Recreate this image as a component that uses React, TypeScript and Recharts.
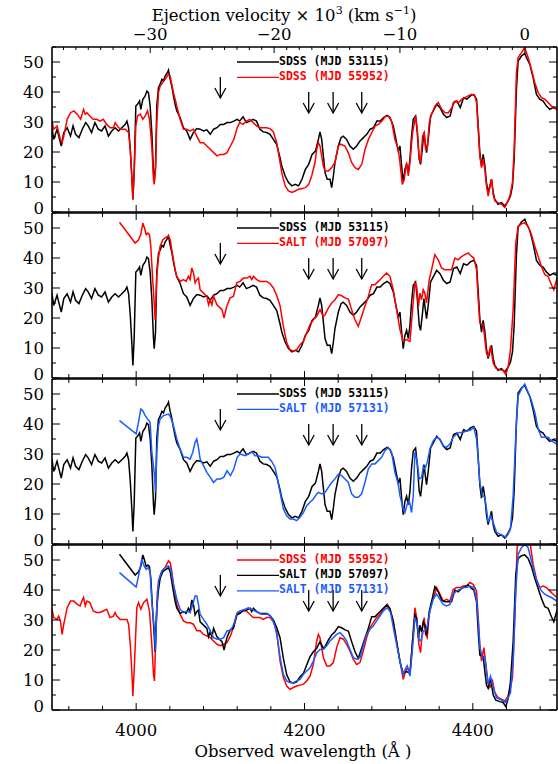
import { LineChart, Line, XAxis, YAxis, ReferenceDot, Legend } from 'recharts';

type Pt = [number, number];

// wavelength (Å), flux
const sdss53115: Pt[] = [
  [3900, 28.1], [3902, 24.2], [3906, 27.6], [3908, 25.3], [3911, 22.0], [3914, 26.5], [3918, 28.1], [3922, 25.3],
  [3925, 28.7], [3928, 25.9], [3932, 24.8], [3936, 27.6], [3940, 29.8], [3943, 28.7], [3947, 26.5], [3951, 29.8],
  [3955, 27.6], [3959, 27.0], [3963, 28.7], [3967, 25.3], [3971, 27.0], [3975, 28.1], [3979, 27.0], [3983, 28.1],
  [3987, 29.2], [3989, 30.3], [3991, 28.1], [3993, 20.9], [3995, 10.9], [3996.1, 4.2], [3997.6, 13.1], [3999.6, 35.3],
  [4001.6, 35.9], [4004, 37.0], [4005.5, 34.2], [4008, 37.6], [4010.7, 38.7], [4012.7, 40.3], [4014.6, 39.8],
  [4016.6, 35.3], [4018.6, 26.5], [4020.6, 13.1], [4021.4, 9.8], [4023, 15.3], [4024.5, 35.3], [4026.5, 41.5],
  [4028.5, 42.6], [4030.5, 44.2], [4032.4, 43.7], [4034.4, 45.3], [4037.2, 46.5], [4038.4, 47.3], [4040.4, 44.2],
  [4042.3, 42.0], [4044.3, 38.7], [4046.3, 35.9], [4048.3, 33.7], [4052.2, 31.5], [4056.2, 28.1], [4060.1, 27.0],
  [4064.1, 24.2], [4068.1, 26.5], [4072, 27.8], [4076, 27.6], [4080, 27.0], [4084, 27.4], [4088, 25.9], [4092, 27.6],
  [4096, 28.1], [4100, 29.2], [4104, 29.2], [4108, 29.8], [4112, 29.8], [4116, 30.3], [4120, 30.9], [4123, 30.3],
  [4127, 31.7], [4131, 29.8], [4135, 30.3], [4139, 30.9], [4143, 30.3], [4147, 27.6], [4151, 26.7], [4155, 26.5],
  [4159, 25.9], [4163, 24.2], [4167, 22.5], [4171, 18.0], [4173, 15.3], [4177, 12.0], [4181, 9.8], [4185, 8.7],
  [4189, 9.2], [4193, 8.7], [4197, 10.9], [4201, 14.2], [4205, 15.9], [4209, 19.2], [4213, 20.3], [4216.5, 24.2],
  [4218.4, 26.7], [4220.4, 24.2], [4222.4, 18.7], [4224.4, 13.1], [4227, 10.9], [4230.3, 10.9], [4232.3, 8.1],
  [4234.3, 12.0], [4236.2, 16.5], [4240.2, 22.0], [4243.4, 24.8], [4246, 25.3], [4250, 24.2], [4254, 22.0],
  [4258, 20.9], [4262, 22.0], [4266, 23.7], [4270, 24.8], [4274, 25.9], [4278, 27.6], [4282, 28.1], [4286, 30.3],
  [4290, 30.3], [4294, 31.5], [4298, 32.2], [4301.5, 31.5], [4305.5, 28.7], [4309.4, 23.1], [4311.4, 20.3],
  [4313.4, 22.0], [4315.4, 15.3], [4317.3, 9.8], [4319.3, 14.2], [4321.3, 15.9], [4323.3, 13.1], [4325.3, 17.6],
  [4327.2, 25.3], [4329.2, 30.9], [4332, 32.0], [4334, 26.5], [4336.3, 17.6], [4337.9, 15.9], [4339.9, 20.9],
  [4341.9, 26.5], [4343.4, 23.1], [4345, 19.8], [4347, 24.2], [4349.8, 32.0], [4353, 33.7], [4357, 35.9],
  [4361, 34.8], [4365, 32.6], [4369, 31.5], [4373, 32.0], [4377, 36.5], [4381, 37.0], [4385, 34.8], [4389, 38.1],
  [4393, 37.6], [4397, 38.7], [4401, 39.2], [4404.4, 37.6], [4406.4, 28.7], [4408.3, 19.8], [4410.3, 15.3],
  [4412.3, 19.2], [4414.3, 15.5], [4416.2, 9.8], [4418.2, 6.5], [4420.2, 8.7], [4422.2, 10.9], [4424.2, 6.5],
  [4426.1, 4.2], [4430, 2.6], [4434, 3.1], [4438, 2.0], [4442, 3.7], [4444.7, 5.3], [4447.1, 8.7], [4449.1, 17.6],
  [4451.8, 40.9], [4453.8, 50.3], [4457.8, 52.0], [4461.7, 52.9], [4463.7, 51.5], [4467.7, 49.2], [4471.6, 44.8],
  [4475.6, 39.2], [4479.5, 37.6], [4483.5, 37.0], [4487.5, 35.3], [4491.4, 34.2], [4495.4, 34.8], [4500, 34.2],
];

const sdss55952: Pt[] = [
  [3900, 30.3], [3902, 27.6], [3906, 28.7], [3910, 24.2], [3912, 23.1], [3914, 25.3], [3918, 30.9], [3922, 33.1],
  [3926, 33.7], [3930, 32.6], [3934, 30.9], [3937.5, 34.2], [3939.5, 32.6], [3941.5, 33.1], [3945, 32.0],
  [3949, 30.9], [3953, 30.9], [3957, 30.3], [3961, 30.9], [3965, 29.2], [3969, 28.1], [3973, 28.1], [3975, 29.8],
  [3979, 28.1], [3983, 27.6], [3987, 27.6], [3991, 26.5], [3993, 20.9], [3995, 10.9], [3996.1, 4.2], [3997.6, 13.1],
  [3999.6, 28.7], [4001.6, 32.0], [4004.8, 32.6], [4008, 30.9], [4010.7, 32.0], [4013.5, 33.7], [4015.8, 30.9],
  [4018.6, 22.0], [4020.6, 10.9], [4021.4, 9.2], [4023, 14.2], [4024.5, 29.8], [4026.5, 39.8], [4028.5, 42.0],
  [4031.3, 43.1], [4034.4, 44.2], [4038.4, 45.9], [4040.4, 45.3], [4042.3, 42.6], [4044.3, 39.8], [4046.3, 37.6],
  [4048.3, 35.3], [4052.2, 30.9], [4056.2, 27.6], [4060, 27.6], [4064, 27.0], [4068, 27.6], [4072, 25.3],
  [4076, 23.1], [4080, 23.1], [4084, 22.0], [4088, 20.9], [4092, 19.8], [4096, 18.7], [4100, 19.2], [4104, 19.2],
  [4108, 19.8], [4112, 22.0], [4116, 24.2], [4120, 28.1], [4123, 29.8], [4127, 29.2], [4131, 30.3], [4135, 30.9],
  [4139, 29.8], [4143, 28.7], [4147, 28.1], [4151, 28.1], [4155, 28.1], [4159, 27.8], [4163, 26.7], [4167, 23.1],
  [4173, 13.1], [4177, 8.7], [4181, 7.0], [4185, 6.5], [4189, 7.0], [4193, 7.6], [4197, 7.8], [4201, 8.1],
  [4205, 9.2], [4208.5, 12.0], [4212.5, 16.5], [4214.5, 20.9], [4216.5, 23.1], [4218.4, 22.0], [4222.4, 15.3],
  [4224.4, 13.7], [4228.3, 13.7], [4232.3, 14.8], [4236.2, 16.5], [4240.2, 22.0], [4243, 22.6], [4248, 22.0],
  [4252, 19.8], [4256, 16.5], [4260, 14.8], [4264, 14.2], [4268, 15.9], [4272, 20.9], [4276, 24.2], [4280, 26.5],
  [4284, 28.7], [4288, 29.2], [4292, 30.3], [4296, 31.8], [4299.5, 32.0], [4303.5, 30.3], [4307.4, 24.2],
  [4311.4, 20.9], [4313.4, 16.5], [4316.2, 9.2], [4318.5, 10.9], [4321.3, 16.5], [4323.3, 12.0], [4325.3, 16.5],
  [4328.4, 26.5], [4332, 32.0], [4334, 27.6], [4336.3, 17.6], [4337.9, 16.5], [4340.3, 25.3], [4342.3, 26.5],
  [4343.8, 20.9], [4345.8, 20.9], [4348.2, 29.8], [4351, 32.6], [4355, 35.3], [4359, 36.5], [4363, 34.2],
  [4367, 33.1], [4371, 33.1], [4375, 34.8], [4379, 37.0], [4383, 36.5], [4387, 37.6], [4390.5, 38.1],
  [4394.5, 38.7], [4398.4, 39.2], [4402.4, 38.7], [4404.4, 36.5], [4406.4, 27.6], [4408.3, 18.7], [4410.3, 14.8],
  [4412.3, 17.6], [4414.3, 14.0], [4416.2, 8.7], [4418.2, 5.3], [4420.2, 8.1], [4422.2, 10.9], [4424.2, 5.9],
  [4426.1, 3.7], [4430, 3.1], [4434, 2.6], [4438, 1.5], [4440.8, 3.1], [4444, 5.3], [4447.1, 9.8], [4449.1, 20.9],
  [4451.8, 46.5], [4453.8, 51.5], [4457.8, 53.1], [4461.7, 54.8], [4465.7, 51.5], [4469.6, 47.6], [4473.6, 43.1],
  [4477.6, 39.8], [4481.5, 38.1], [4485.5, 37.6], [4489.4, 36.5], [4493.4, 35.3], [4500, 34.2],
];

const salt57097: Pt[] = [
  [3980.2, 51.9], [3998.8, 45.0], [4002.8, 46.1], [4005.5, 47.8], [4007.9, 51.7], [4009.9, 50.0], [4011.9, 47.8],
  [4013.9, 48.3], [4015.8, 47.8], [4017.4, 43.9], [4019.4, 33.9], [4021.4, 25.0], [4022.5, 19.4], [4024.5, 33.9],
  [4026.5, 40.0], [4028.5, 43.9], [4031.7, 46.1], [4034.4, 46.7], [4038.4, 47.4], [4040.4, 46.1], [4042.3, 42.8],
  [4044.3, 39.4], [4046.3, 36.1], [4048.3, 33.9], [4052.2, 32.2], [4056.2, 32.8], [4059.3, 32.2], [4062.1, 33.9],
  [4064.1, 32.8], [4066.1, 36.7], [4068.1, 35.0], [4070, 31.7], [4072, 32.8], [4074, 33.3], [4076, 29.4],
  [4080, 28.3], [4084, 27.2], [4086, 24.4], [4088, 26.1], [4090, 24.4], [4092, 27.2], [4096, 24.4], [4100, 23.3],
  [4102, 22.8], [4104.4, 20.0], [4107.6, 23.9], [4111.6, 26.7], [4115.5, 27.2], [4119.5, 31.7], [4123.4, 32.2],
  [4127.4, 33.3], [4131.3, 33.3], [4135.3, 33.9], [4137.3, 32.8], [4139.3, 33.9], [4143.2, 32.8], [4147.2, 32.2],
  [4151.1, 32.2], [4155.1, 32.2], [4159, 31.5], [4163, 30.0], [4167, 27.5], [4171, 24.0], [4174.9, 17.2],
  [4178.9, 11.7], [4182.8, 9.4], [4186.8, 8.9], [4190.7, 9.4], [4194.7, 11.1], [4198.7, 12.2], [4202.6, 15.0],
  [4206.6, 17.8], [4210.5, 19.4], [4214.5, 20.6], [4218.4, 22.8], [4222.4, 20.6], [4224.4, 21.1], [4228.3, 23.3],
  [4232.3, 25.0], [4236.2, 26.1], [4240.2, 27.8], [4244.2, 27.4], [4248.1, 26.7], [4252.1, 26.3], [4256, 22.8],
  [4260, 19.4], [4263.9, 17.2], [4267.9, 20.6], [4271.8, 23.9], [4275.8, 27.2], [4279.8, 31.1], [4283.7, 31.1],
  [4287.7, 32.2], [4293.6, 33.9], [4297.6, 35.0], [4301.5, 33.9], [4305.5, 29.4], [4309.4, 22.8], [4313.4, 16.1],
  [4317.3, 12.2], [4321.3, 12.8], [4325.3, 12.2], [4328.4, 22.8], [4331.2, 31.7], [4333.2, 30.6], [4335.5, 23.9],
  [4337.1, 28.3], [4339.1, 26.1], [4341.1, 29.4], [4343, 28.3], [4345, 25.0], [4348.2, 32.8], [4351, 36.1],
  [4354.9, 41.1], [4358.9, 39.4], [4362.8, 36.7], [4366.8, 36.1], [4370.7, 36.1], [4374.7, 36.1], [4378.7, 40.0],
  [4382.6, 39.4], [4386.6, 40.5], [4390.5, 41.1], [4394.5, 41.7], [4398.4, 40.5], [4401.2, 40.0], [4404.4, 36.1],
  [4406.4, 26.1], [4408.3, 18.3], [4412.3, 17.8], [4414.3, 12.8], [4416.2, 8.3], [4418.2, 7.2], [4421, 10.6],
  [4424.2, 5.0], [4427.3, 3.3], [4432.1, 2.8], [4436, 2.5], [4439.2, 1.1], [4442, 3.9], [4444.7, 9.4],
  [4447.9, 22.8], [4451, 45.0], [4453.8, 50.5], [4457.8, 51.4], [4461.7, 51.7], [4465.7, 50.5], [4469.6, 47.8],
  [4473.6, 43.9], [4477.6, 40.5], [4481.5, 37.2], [4485.5, 34.4], [4489.4, 33.9], [4493.4, 31.1], [4496.2, 29.4],
  [4500, 33.3],
];

const salt57131: Pt[] = [
  [3980.2, 41.1], [4000, 36.7], [4002.8, 40.6], [4005.5, 45.0], [4007.9, 44.4], [4010.7, 42.8], [4013.5, 41.7],
  [4016.6, 40.6], [4018.6, 30.6], [4021.4, 23.9], [4023, 17.2], [4024.5, 30.6], [4026.5, 39.4], [4028.5, 41.7],
  [4032.4, 42.8], [4038.4, 43.3], [4041.1, 42.2], [4044.3, 39.4], [4048.3, 35.0], [4052.2, 31.7], [4056.2, 28.9],
  [4060.1, 28.9], [4064.1, 28.3], [4067.3, 30.6], [4070, 33.9], [4072, 35.0], [4074, 32.2], [4076, 28.3],
  [4080, 26.1], [4084, 23.9], [4088, 22.2], [4092, 20.5], [4096, 21.7], [4100, 21.7], [4104, 22.2], [4108, 24.4],
  [4112, 22.8], [4116, 25.0], [4120, 28.9], [4123.4, 30.0], [4129.4, 29.4], [4133.3, 30.0], [4137.3, 30.8],
  [4141.2, 29.4], [4145.2, 29.4], [4149.1, 28.9], [4153.1, 28.9], [4157.1, 28.9], [4161, 27.5], [4165, 25.5],
  [4168, 21.5], [4171, 17.2], [4174.9, 11.7], [4178.9, 9.4], [4182.8, 8.3], [4186.8, 8.3], [4190.7, 7.8],
  [4194.7, 8.9], [4198.7, 10.5], [4202.6, 12.8], [4206.6, 13.9], [4210.5, 15.0], [4214.5, 16.7], [4216.5, 17.2],
  [4220.4, 16.7], [4224.4, 17.2], [4228.3, 18.9], [4232.3, 20.5], [4236.2, 21.7], [4240.2, 23.3], [4244.2, 22.8],
  [4248.1, 21.7], [4252.1, 20.5], [4256, 16.7], [4260, 15.6], [4263.9, 15.6], [4267.9, 16.7], [4271.8, 20.5],
  [4275.8, 25.0], [4279.8, 26.7], [4283.7, 26.7], [4287.7, 27.8], [4291.6, 28.9], [4295.6, 31.1], [4299.5, 32.2],
  [4303.5, 30.6], [4307.4, 23.9], [4311.4, 20.0], [4313.4, 16.1], [4317.3, 11.7], [4319.3, 10.5], [4322.1, 13.3],
  [4324.5, 14.4], [4327.2, 10.5], [4329.2, 16.1], [4331.2, 30.6], [4334, 27.2], [4336.3, 21.7], [4339.1, 22.2],
  [4341.1, 25.6], [4343, 25.0], [4345.8, 27.2], [4349, 31.7], [4352.9, 34.4], [4356.9, 35.6], [4360.9, 35.0],
  [4364.8, 32.8], [4368.8, 32.2], [4372.7, 33.3], [4376.7, 35.6], [4380.6, 36.7], [4384.6, 37.2], [4388.5, 37.2],
  [4392.5, 37.8], [4396.5, 37.8], [4401.2, 38.9], [4404.4, 35.0], [4406.4, 28.3], [4408.3, 20.5], [4411.5, 16.1],
  [4414.3, 15.6], [4416.2, 11.7], [4418.2, 7.2], [4421, 9.4], [4424.2, 7.2], [4428.1, 3.9], [4432.1, 3.3],
  [4436, 2.8], [4439.2, 2.2], [4442, 3.3], [4444.7, 5.0], [4447.9, 16.1], [4451, 36.1], [4453.8, 49.4],
  [4457.8, 51.7], [4461.7, 53.3], [4465.7, 50.6], [4469.6, 47.8], [4473.6, 43.9], [4477.6, 38.3], [4481.5, 35.6],
  [4485.5, 35.6], [4489.4, 35.6], [4493.4, 34.4], [4500, 33.3],
];

// bottom panel: spectra matched to SALT (MJD 57097)
const sdss55952Matched: Pt[] = [
  [3900, 33.6], [3902, 30.8], [3906, 30.2], [3908, 31.3], [3910, 29.7], [3912, 25.2], [3914, 28.6], [3918, 34.1],
  [3922, 36.3], [3926, 36.3], [3930, 35.2], [3933.5, 34.7], [3935.5, 36.3], [3937.5, 37.5], [3939.5, 34.7],
  [3941.5, 36.3], [3945, 35.8], [3949, 33.0], [3953, 32.5], [3957, 32.5], [3961, 33.0], [3965, 33.6], [3969, 30.8],
  [3973, 31.3], [3975, 32.5], [3977, 31.3], [3981, 30.2], [3985, 30.2], [3989, 30.2], [3991, 28.6], [3993, 21.9],
  [3995, 11.9], [3996.1, 4.7], [3997.6, 13.0], [4000.8, 34.1], [4002.8, 35.8], [4005.5, 33.6], [4008.7, 35.8],
  [4012.7, 36.9], [4015.8, 33.0], [4018.6, 21.9], [4020.6, 11.9], [4021.8, 9.7], [4023.3, 25.2], [4025.3, 39.7],
  [4027.7, 44.1], [4030.5, 46.3], [4034.4, 47.5], [4038.4, 49.7], [4040.4, 49.1], [4042.3, 46.3], [4044.3, 41.9],
  [4046.3, 38.6], [4048.3, 35.2], [4052.2, 31.9], [4056.2, 29.7], [4060, 29.1], [4064, 29.1], [4068, 28.6],
  [4072, 26.4], [4076, 26.4], [4080, 25.2], [4084, 24.7], [4088, 24.1], [4092, 23.0], [4096, 21.9], [4100, 21.4],
  [4104, 21.9], [4108, 22.5], [4112, 24.7], [4116, 28.0], [4120, 31.9], [4123, 32.5], [4127, 33.0], [4131, 33.0],
  [4135, 31.9], [4139, 30.8], [4143, 30.8], [4147, 30.8], [4151, 30.2], [4155, 30.8], [4159, 30.8], [4163, 29.5],
  [4167, 26.0], [4171, 16.3], [4174.9, 10.8], [4178.9, 8.0], [4182.8, 6.9], [4186.8, 7.5], [4190.7, 8.0],
  [4194.7, 8.3], [4198.7, 8.6], [4202.6, 9.7], [4206.6, 11.3], [4210.5, 15.2], [4214.5, 23.0], [4216.5, 25.2],
  [4218.4, 24.1], [4220.4, 20.8], [4222.4, 17.5], [4226.4, 14.7], [4230.3, 14.7], [4234.3, 15.8], [4238.2, 20.8],
  [4242.2, 24.1], [4246.1, 23.6], [4250.1, 21.9], [4254, 19.7], [4258, 16.9], [4262, 15.2], [4265.9, 15.8],
  [4269.9, 19.7], [4273.8, 24.1], [4277.8, 27.5], [4281.7, 29.1], [4285.7, 30.8], [4289.6, 31.9], [4293.6, 33.6],
  [4298.4, 35.2], [4301.5, 33.6], [4305.5, 29.7], [4309.4, 23.0], [4313.4, 16.3], [4317.3, 10.2], [4320.1, 13.0],
  [4322.5, 14.1], [4325.3, 11.9], [4328, 21.9], [4331.2, 34.1], [4333.2, 30.8], [4335.9, 21.9], [4337.9, 19.1],
  [4340.3, 27.5], [4342.3, 30.8], [4343.8, 25.2], [4345.8, 24.1], [4348.2, 31.9], [4351, 35.8], [4353.7, 37.5],
  [4356.9, 40.8], [4360.9, 38.6], [4364.8, 36.3], [4368.8, 36.9], [4372.7, 36.3], [4376.7, 40.2], [4380.6, 40.8],
  [4384.6, 40.8], [4388.5, 41.3], [4392.5, 41.3], [4396.5, 42.5], [4400.4, 41.9], [4404.4, 39.7], [4406.4, 30.8],
  [4408.3, 21.9], [4410.3, 16.3], [4413.1, 20.8], [4415.4, 15.5], [4418.2, 8.6], [4420.2, 7.5], [4423.4, 9.7],
  [4426.1, 5.8], [4430.1, 4.1], [4434, 3.6], [4438, 3.0], [4440.8, 4.1], [4443.9, 6.4], [4447.1, 10.8],
  [4449.9, 30.8], [4452.6, 54.1], [4455.8, 57.0], [4459.8, 59.0], [4463.7, 59.0], [4467.7, 56.3], [4471.6, 48.6],
  [4475.6, 43.6], [4479.5, 40.8], [4483.5, 41.3], [4487.5, 40.8], [4491.4, 39.7], [4495.4, 38.6], [4500, 37.5],
];

const salt57131Matched: Pt[] = [
  [3980.2, 45.8], [4000, 41.0], [4002.8, 44.7], [4006.7, 50.2], [4009.5, 48.0], [4011.9, 46.9], [4014.6, 47.5],
  [4016.6, 45.8], [4018.6, 36.3], [4021.4, 27.5], [4023, 19.7], [4024.5, 34.1], [4026.5, 43.0], [4030.5, 46.3],
  [4034.4, 47.5], [4038.4, 48.0], [4041.1, 46.9], [4044.3, 41.9], [4048.3, 36.9], [4052.2, 33.6], [4056.2, 32.5],
  [4060.1, 33.0], [4064.1, 32.5], [4067.3, 35.2], [4070, 38.0], [4072, 38.0], [4074, 35.2], [4076, 31.9],
  [4080, 30.2], [4084, 28.6], [4088, 26.4], [4092, 24.1], [4096, 23.6], [4100, 23.6], [4104, 24.1], [4108, 26.4],
  [4112, 26.4], [4116, 28.6], [4120, 32.5], [4123.4, 33.0], [4129.4, 33.6], [4133.3, 34.1], [4137.3, 33.6],
  [4141.2, 33.0], [4145.2, 32.5], [4149.1, 31.9], [4153.1, 31.9], [4157.1, 31.9], [4161, 30.8], [4165, 28.0],
  [4168, 23.5], [4171, 17.5], [4174.9, 11.9], [4178.9, 9.7], [4182.8, 9.1], [4186.8, 9.1], [4190.7, 9.7],
  [4194.7, 10.2], [4198.7, 11.9], [4202.6, 13.0], [4206.6, 14.1], [4210.5, 16.3], [4214.5, 19.1], [4218.4, 20.2],
  [4222.4, 20.2], [4226.4, 21.4], [4230.3, 23.0], [4234.3, 24.1], [4238.2, 25.2], [4242.2, 25.8], [4246.1, 24.7],
  [4250.1, 23.0], [4254, 20.2], [4258, 17.5], [4262, 16.9], [4265.9, 17.5], [4269.9, 21.4], [4273.8, 25.2],
  [4277.8, 26.9], [4281.7, 28.0], [4285.7, 29.7], [4289.6, 31.3], [4293.6, 33.0], [4298.4, 34.1], [4302.3, 32.5],
  [4306.3, 26.4], [4310.2, 20.8], [4314.2, 15.2], [4317.3, 11.9], [4319.7, 13.6], [4322.1, 14.7], [4325.3, 11.3],
  [4328.4, 20.8], [4331.2, 30.8], [4334, 28.6], [4336.3, 23.0], [4339.1, 23.6], [4341.1, 26.4], [4343.8, 26.4],
  [4345.8, 28.0], [4349, 33.0], [4352.9, 36.9], [4356.9, 38.6], [4360.9, 36.9], [4364.8, 35.2], [4368.8, 34.7],
  [4372.7, 35.2], [4376.7, 38.6], [4380.6, 39.7], [4384.6, 40.2], [4388.5, 40.8], [4392.5, 40.8], [4396.5, 41.3],
  [4401.2, 40.8], [4404.4, 36.9], [4406.4, 29.7], [4408.3, 20.8], [4411.5, 17.5], [4414.3, 17.5], [4416.2, 13.0],
  [4418.2, 8.6], [4421, 11.3], [4424.2, 7.5], [4428.1, 4.1], [4432.1, 3.6], [4436, 3.0], [4439.2, 2.5],
  [4442, 4.1], [4444.7, 5.8], [4447.9, 16.3], [4451, 39.7], [4453.8, 51.9], [4457.8, 54.1], [4461.7, 55.2],
  [4465.7, 54.1], [4469.6, 49.7], [4473.6, 45.2], [4477.6, 41.9], [4481.5, 39.7], [4485.5, 38.6], [4489.4, 38.0],
  [4493.4, 37.5], [4500, 36.3],
];

const waveTicks = [3920, 3960, 4000, 4040, 4080, 4120, 4160, 4200, 4240, 4280, 4320, 4360, 4400, 4440, 4480];
const waveLabelTicks = [4000, 4200, 4400];
const fluxTicks = [0, 5, 10, 15, 20, 25, 30, 35, 40, 45, 50, 55];
const fluxLabelTicks = [0, 10, 20, 30, 40, 50];
const velocityLabels = [-30, -20, -10, 0];
const velocityWaves = [4016.7, 4163.9, 4313.4, 4461.8];
const arrowWaves = [4100, 4205, 4234, 4268];
const arrowTips = [38, 33, 33, 33];

const BLACK = '#000000';
const RED = '#ff0000';
const BLUE = '#1a5cff';

const W = 558;
const H = 764;
const PLOT_LEFT = 52;
const PLOT_RIGHT = 557;
const PANEL_H = 165;
const panelTops = [47, 213, 379, 545];
const LEG_ROW = 15.4;
const SERIF = 'DejaVu Serif';
const AX = 1; // axis band thickness (must be > 0 for recharts to draw it)

const panels = [
  [
    { data: sdss53115, color: BLACK, label: 'SDSS (MJD 53115)' },
    { data: sdss55952, color: RED, label: 'SDSS (MJD 55952)' },
  ],
  [
    { data: sdss53115, color: BLACK, label: 'SDSS (MJD 53115)' },
    { data: salt57097, color: RED, label: 'SALT (MJD 57097)' },
  ],
  [
    { data: sdss53115, color: BLACK, label: 'SDSS (MJD 53115)' },
    { data: salt57131, color: BLUE, label: 'SALT (MJD 57131)' },
  ],
  [
    { data: sdss55952Matched, color: RED, label: 'SDSS (MJD 55952)' },
    { data: salt57097, color: BLACK, label: 'SALT (MJD 57097)' },
    { data: salt57131Matched, color: BLUE, label: 'SALT (MJD 57131)' },
  ],
];

const toPoints = (d: Pt[]) => d.map(([w, f]) => ({ w, f }));

// minor ticks every 1000 km/s between the labelled ones
const velocityMinor: number[] = [];
for (let i = 0; i < velocityWaves.length - 1; i++) {
  const step = (velocityWaves[i + 1] - velocityWaves[i]) / 10;
  for (let k = 1; k < 10; k++) velocityMinor.push(velocityWaves[i] + k * step);
}
{
  const first = (velocityWaves[1] - velocityWaves[0]) / 10;
  for (let k = 1; velocityWaves[0] - k * first > 3902; k++) velocityMinor.push(velocityWaves[0] - k * first);
  const last = (velocityWaves[3] - velocityWaves[2]) / 10;
  for (let k = 1; velocityWaves[3] + k * last < 4498; k++) velocityMinor.push(velocityWaves[3] + k * last);
}
const velocityTicks = [...velocityWaves, ...velocityMinor].sort((a, b) => a - b);

const fmtVel = (v: number) => (v < 0 ? `\u2212${Math.abs(v)}` : `${v}`);

function Arrow({ cx, cy }: any) {
  if (cx == null || cy == null) return null;
  return (
    <g>
      <line x1={cx} x2={cx} y1={cy - 21} y2={cy} stroke={BLACK} strokeWidth={1.3} />
      <polyline points={`${cx - 5.5},${cy - 10} ${cx},${cy} ${cx + 5.5},${cy - 10}`} fill="none" stroke={BLACK} strokeWidth={1.3} />
    </g>
  );
}

function Panel({ index }: { index: number }) {
  const top = panelTops[index];
  const padTop = index === 0 ? top : 10;
  const padBottom = index === 3 ? H - (top + PANEL_H) : 10;
  const height = padTop + PANEL_H + padBottom;
  const yTop = padTop;
  const yBottom = padTop + PANEL_H;
  const lines = panels[index];
  const frame = { stroke: BLACK, strokeWidth: 1.6 };

  const bottomTick = (p: any) => {
    const x = p.x;
    const v = p.payload.value;
    const major = waveLabelTicks.includes(v);
    return (
      <g>
        <line x1={x} x2={x} y1={yBottom} y2={yBottom - (major ? 7 : 4)} stroke={BLACK} strokeWidth={1} />
        {index === 3 && major && (
          <text x={x} y={yBottom + 26} textAnchor="middle" fontFamily={SERIF} fontSize={16.5} fill={BLACK}>
            {v}
          </text>
        )}
      </g>
    );
  };

  const topTick = (p: any) => {
    const x = p.x;
    const v = p.payload.value;
    if (index === 0) {
      const i = velocityWaves.indexOf(v);
      return (
        <g>
          <line x1={x} x2={x} y1={yTop} y2={yTop + (i >= 0 ? 6 : 3)} stroke={BLACK} strokeWidth={1} />
          {i >= 0 && (
            <text x={x} y={yTop - 7} textAnchor="middle" fontFamily={SERIF} fontSize={16.5} fill={BLACK}>
              {fmtVel(velocityLabels[i])}
            </text>
          )}
        </g>
      );
    }
    const major = waveLabelTicks.includes(v);
    return <line x1={x} x2={x} y1={yTop} y2={yTop + (major ? 7 : 4)} stroke={BLACK} strokeWidth={1} />;
  };

  const leftTick = (p: any) => {
    const y = p.y;
    const v = p.payload.value;
    const major = fluxLabelTicks.includes(v);
    return (
      <g>
        <line x1={PLOT_LEFT} x2={PLOT_LEFT + (major ? 8 : 4)} y1={y} y2={y} stroke={BLACK} strokeWidth={1} />
        {major && (
          <text x={PLOT_LEFT - 8} y={v === 0 ? y + 2 : y + 6} textAnchor="end" fontFamily={SERIF} fontSize={16.5} fill={BLACK}>
            {v}
          </text>
        )}
      </g>
    );
  };

  const rightTick = (p: any) => {
    const y = p.y;
    const major = fluxLabelTicks.includes(p.payload.value);
    return <line x1={PLOT_RIGHT} x2={PLOT_RIGHT - (major ? 8 : 4)} y1={y} y2={y} stroke={BLACK} strokeWidth={1} />;
  };

  const legendContent = () => (
    <svg width={170} height={lines.length * LEG_ROW + 8} style={{ display: 'block' }}>
      {lines.map((l, i) => {
        const y = 10 + i * LEG_ROW;
        return (
          <g key={i}>
            <line x1={0} x2={42} y1={y} y2={y} stroke={l.color} strokeWidth={1.3} />
            <text x={42} y={y + 2.5} fill={l.color} fontFamily="DejaVu Sans Mono" fontWeight="bold" fontSize={11.5}>
              {l.label}
            </text>
          </g>
        );
      })}
    </svg>
  );

  return (
    <div style={{ position: 'absolute', left: 0, top: top - padTop }}>
      <LineChart
        width={W}
        height={height}
        margin={{ top: padTop - AX, right: W - PLOT_RIGHT - AX, bottom: padBottom - AX, left: PLOT_LEFT - AX }}
      >
        <XAxis xAxisId="b" dataKey="w" type="number" domain={[3900, 4500]} allowDataOverflow ticks={waveTicks}
          interval={0} height={AX} tickLine={false} axisLine={frame} tick={bottomTick} />
        <XAxis xAxisId="t" orientation="top" dataKey="w" type="number" domain={[3900, 4500]} allowDataOverflow
          ticks={index === 0 ? velocityTicks : waveTicks} interval={0} height={AX} tickLine={false} axisLine={frame}
          tick={topTick} />
        <YAxis yAxisId="l" type="number" domain={[0, 55]} allowDataOverflow ticks={fluxTicks} interval={0} width={AX}
          tickLine={false} axisLine={frame} tick={leftTick} />
        <YAxis yAxisId="r" orientation="right" type="number" domain={[0, 55]} allowDataOverflow ticks={fluxTicks}
          interval={0} width={AX} tickLine={false} axisLine={frame} tick={rightTick} />
        {lines.map((l, i) => (
          <Line key={i} data={toPoints(l.data)} dataKey="f" name={l.label} xAxisId="b" yAxisId="l" type="linear"
            stroke={l.color} strokeWidth={1.5} dot={false} activeDot={false} isAnimationActive={false} />
        ))}
        {arrowWaves.map((w, i) => (
          <ReferenceDot key={i} xAxisId="b" yAxisId="l" x={w} y={arrowTips[i]} shape={Arrow} />
        ))}
        <Legend layout="vertical" align="center" verticalAlign="middle" content={legendContent}
          wrapperStyle={{ left: 237, top: padTop + 15 - 10, width: 170 }} />
      </LineChart>
    </div>
  );
}

export default function App() {
  return (
    <div style={{ position: 'absolute', left: 0, top: 0, width: W, height: H, background: '#fff', overflow: 'hidden' }}>
      {panels.map((_, i) => (
        <Panel key={i} index={i} />
      ))}
      <svg width={W} height={H} style={{ position: 'absolute', left: 0, top: 0, pointerEvents: 'none' }}>
        <text x={284} y={21} textAnchor="middle" fontFamily={SERIF} fontSize={16.5} fill={BLACK}>
          Ejection velocity × 10
          <tspan dy={-7} fontSize={11}>3</tspan>
          <tspan dy={7}> (km s</tspan>
          <tspan dy={-7} fontSize={11}>{'\u22121'}</tspan>
          <tspan dy={7}>)</tspan>
        </text>
        <text x={303} y={757} textAnchor="middle" fontFamily={SERIF} fontSize={16.5} fill={BLACK}>
          Observed wavelength (Å )
        </text>
      </svg>
    </div>
  );
}
